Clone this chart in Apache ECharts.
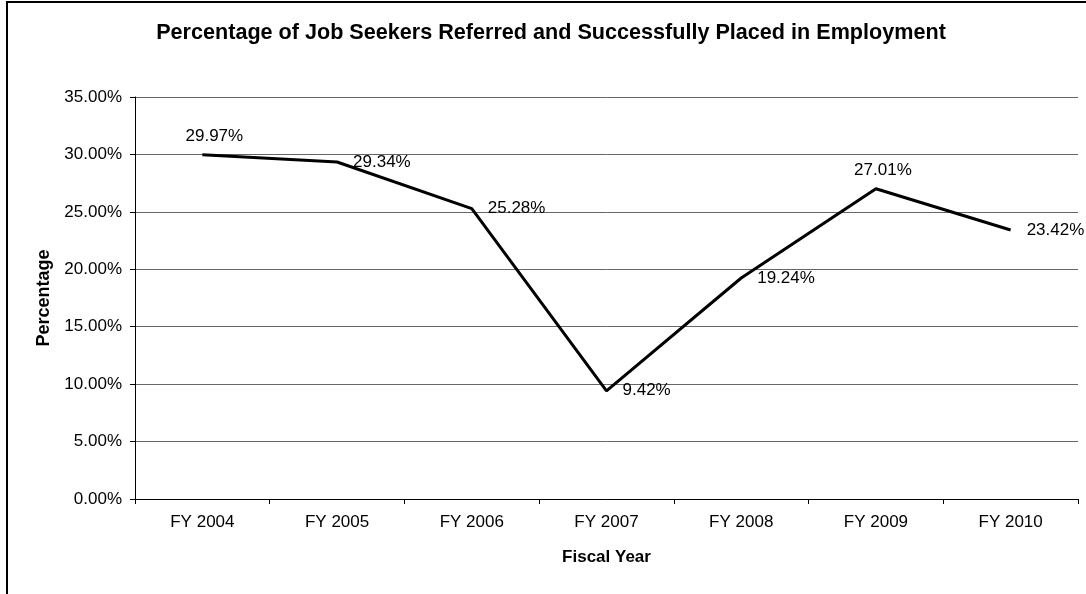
<!DOCTYPE html>
<html>
<head>
<meta charset="utf-8">
<script src="https://cdn.jsdelivr.net/npm/echarts@6/dist/echarts.min.js"></script>
<style>
html,body{margin:0;padding:0;background:#fff;}
#chart{position:absolute;left:0;top:0;width:1086px;height:594px;}
#frame{position:absolute;left:6px;top:1px;width:1200px;height:700px;border-left:2px solid #000;border-top:2px solid #000;pointer-events:none;}
</style>
</head>
<body>
<div id="chart"></div>
<div id="frame"></div>
<script>
const categories = ['FY 2004','FY 2005','FY 2006','FY 2007','FY 2008','FY 2009','FY 2010'];
const values = [29.97, 29.34, 25.28, 9.42, 19.24, 27.01, 23.42];
const labelPositions = ['top','right','right','right','right','top','right'];
const yTicks = {min: 0, max: 35, interval: 5};

const FONT = "'Liberation Sans', Arial, sans-serif";
const chart = echarts.init(document.getElementById('chart'));

const seriesData = values.map((v, i) => {
  const pos = labelPositions[i];
  return {
    value: v,
    label: pos === 'top'
      ? {show: true, position: [i === 0 ? 13 : 8, -9], align: 'center', verticalAlign: 'bottom'}
      : {show: true, position: 'right', distance: 15}
  };
});

chart.setOption({
  animation: false,
  backgroundColor: '#fff',
  title: {
    text: 'Percentage of Job Seekers Referred and Successfully Placed in Employment',
    left: 546, top: 17, textAlign: 'center',
    textStyle: {fontFamily: FONT, fontSize: 21.6, fontWeight: 'bold', color: '#000'}
  },
  grid: {left: 135, right: 8, top: 97, bottom: 95, containLabel: false},
  xAxis: {
    type: 'category',
    data: categories,
    boundaryGap: true,
    name: 'Fiscal Year',
    nameLocation: 'middle',
    nameGap: 50,
    nameTextStyle: {fontFamily: FONT, fontSize: 17, fontWeight: 'bold', color: '#000'},
    axisLine: {lineStyle: {color: '#000', width: 1}},
    axisTick: {show: true, length: 5, alignWithLabel: false, lineStyle: {color: '#000'}},
    axisLabel: {fontFamily: FONT, fontSize: 17, color: '#000', margin: 15}
  },
  yAxis: {
    type: 'value',
    min: yTicks.min, max: yTicks.max, interval: yTicks.interval,
    name: 'Percentage',
    nameLocation: 'middle',
    nameGap: 82,
    nameRotate: 90,
    nameTextStyle: {fontFamily: FONT, fontSize: 18, fontWeight: 'bold', color: '#000'},
    axisLine: {show: true, lineStyle: {color: '#000', width: 1}},
    axisTick: {show: true, length: 5, lineStyle: {color: '#000'}},
    axisLabel: {fontFamily: FONT, fontSize: 17, color: '#000', margin: 13,
      formatter: v => v.toFixed(2) + '%'},
    splitLine: {show: true, lineStyle: {color: '#666', width: 1}}
  },
  series: [{
    type: 'line',
    data: seriesData,
    symbol: 'circle',
    symbolSize: 2,
    showSymbol: true,
    itemStyle: {color: 'rgba(0,0,0,0)', borderWidth: 0},
    lineStyle: {color: '#000', width: 3},
    label: {
      show: true,
      opacity: 1,
      fontFamily: FONT, fontSize: 17, color: '#000',
      formatter: p => p.value.toFixed(2) + '%'
    },
    labelLayout: {hideOverlap: false}
  }]
});
</script>
</body>
</html>
